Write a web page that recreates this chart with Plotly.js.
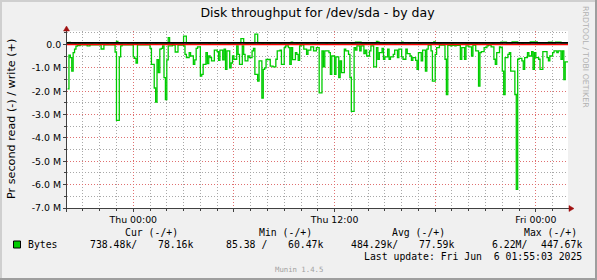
<!DOCTYPE html>
<html><head><meta charset="utf-8">
<script src="https://cdn.plot.ly/plotly-3.0.1.min.js"></script>
<style>html,body{margin:0;padding:0;background:#f0f0f0;overflow:hidden}#chart{width:597px;height:280px}</style>
</head><body><div id="chart"></div>
<script>
// Read throughput (bytes/s, in millions), 5-minute samples from Wed 20:05 onward
const readM = [
1.9,0.45,0.56,1.14,0.35,0.2,0.07,0.03,0.05,0.01,0.01,0.01,0.01,0.01,0.06,0.06,0.01,0.01,0.01,0.01,
0.01,0.01,0.01,0.01,0.19,0.19,0.01,0.01,0.01,0.01,0.01,0.01,0.01,0.01,0.32,3.25,3.25,0.53,0.06,0.01,
0.01,0.01,0.01,0.01,0.01,0.01,0.01,0.53,0.59,0.79,0.01,0.01,0.01,0.01,0.01,0.01,0.01,0.01,0.01,0.16,
0.85,0.85,1.86,2.46,0.65,1.2,0.2,0.16,0.06,1.42,2.36,0.66,0.06,0.06,0.06,0.02,0.02,0.32,0.32,0.02,
0.02,0.02,0.02,0.06,0.42,0.56,0.56,0.35,0.49,0.49,0.85,0.66,0.16,0.1,0.1,1.35,1.28,0.85,0.85,0.35,
0.82,0.49,0.56,0.7,0.7,0.24,0.24,0.3,0.68,0.24,0.24,0.66,0.2,1.06,0.27,0.27,1.0,0.79,0.49,0.63,
0.63,0.06,0.42,0.85,0.85,0.06,0.42,0.7,0.7,0.49,0.56,0.56,0.27,0.16,1.28,1.28,1.57,0.7,0.7,2.29,
1.06,1.0,0.64,0.64,0.64,0.92,0.92,0.96,0.96,0.63,0.27,0.27,0.24,0.85,0.85,0.13,0.06,0.06,0.13,0.85,
0.13,0.65,0.65,0.35,0.42,0.68,0.06,0.01,0.01,0.2,0.2,0.42,0.24,0.24,0.1,0.1,0.27,0.27,0.13,0.13,
2.07,2.07,0.27,0.96,0.27,0.27,0.27,0.35,1.28,0.49,0.49,1.28,0.53,0.53,1.42,0.7,1.2,1.2,0.2,0.27,
0.27,0.42,1.42,2.86,2.86,0.13,0.24,0.06,0.06,0.27,0.06,0.06,0.39,0.24,0.49,0.49,0.27,0.06,0.06,0.96,
0.96,0.13,0.63,0.35,0.35,0.16,0.63,0.53,0.53,0.2,0.63,0.53,0.53,0.42,0.24,0.24,0.56,0.2,0.2,0.53,
0.63,0.63,0.2,0.39,0.39,0.49,0.68,0.56,0.56,0.68,1.06,0.35,0.35,0.7,0.24,0.24,1.14,0.2,0.02,0.02,
0.27,1.57,1.57,0.42,0.13,0.13,0.02,0.02,0.02,0.02,0.63,2.14,0.03,0.03,0.06,0.03,0.03,0.06,0.03,0.03,
0.03,0.63,0.13,0.13,0.63,0.06,0.06,0.1,0.1,0.49,0.02,0.02,0.27,0.27,1.78,0.35,0.3,0.3,0.13,0.13,
0.06,0.02,0.02,0.1,0.1,0.63,0.85,0.35,0.35,0.1,0.13,1.14,2.14,0.56,0.56,0.42,0.35,1.14,1.14,1.14,
2.14,6.2,0.63,0.59,0.59,0.7,1.06,0.56,0.56,0.35,0.49,0.49,0.3,1.06,0.35,0.56,0.56,0.63,1.06,1.06,
0.3,0.3,0.3,0.56,0.7,0.49,0.49,0.35,0.27,0.27,0.35,0.27,0.27,0.63,0.27,1.5,0.74,0.74
];
// Write throughput (bytes/s, in millions)
const writeM = [
0.07,0.09,0.07,0.07,0.07,0.06,0.07,0.07,0.06,0.07,0.07,0.07,0.06,0.07,0.07,0.07,0.07,0.06,0.07,0.07,
0.07,0.07,0.06,0.07,0.07,0.07,0.07,0.07,0.06,0.07,0.07,0.07,0.07,0.07,0.07,0.13,0.07,0.07,0.06,0.07,
0.07,0.07,0.07,0.06,0.07,0.07,0.07,0.07,0.07,0.06,0.07,0.07,0.07,0.07,0.07,0.07,0.06,0.07,0.07,0.07,
0.07,0.07,0.07,0.06,0.07,0.07,0.07,0.07,0.07,0.07,0.07,0.07,0.3,0.07,0.07,0.06,0.07,0.07,0.07,0.07,
0.07,0.07,0.07,0.36,0.36,0.07,0.07,0.06,0.07,0.07,0.07,0.07,0.07,0.07,0.06,0.07,0.07,0.07,0.07,0.07,
0.07,0.06,0.07,0.07,0.07,0.07,0.07,0.07,0.06,0.07,0.07,0.07,0.07,0.07,0.07,0.06,0.07,0.07,0.07,0.07,
0.07,0.07,0.07,0.07,0.25,0.25,0.07,0.07,0.06,0.07,0.07,0.07,0.07,0.07,0.45,0.45,0.07,0.07,0.07,0.06,
0.07,0.07,0.07,0.07,0.06,0.07,0.07,0.07,0.07,0.07,0.07,0.07,0.06,0.07,0.07,0.07,0.07,0.07,0.07,0.07,
0.1,0.07,0.07,0.07,0.06,0.07,0.07,0.07,0.07,0.07,0.07,0.06,0.07,0.07,0.07,0.07,0.07,0.07,0.07,0.06,
0.07,0.07,0.07,0.07,0.07,0.06,0.07,0.07,0.07,0.07,0.07,0.07,0.07,0.06,0.07,0.07,0.07,0.07,0.07,0.07,
0.07,0.07,0.07,0.06,0.07,0.07,0.1,0.1,0.1,0.1,0.07,0.07,0.07,0.06,0.07,0.07,0.07,0.07,0.07,0.07,
0.07,0.13,0.1,0.07,0.07,0.07,0.06,0.07,0.07,0.07,0.07,0.07,0.07,0.07,0.06,0.07,0.07,0.07,0.07,0.1,
0.07,0.07,0.07,0.07,0.06,0.07,0.07,0.07,0.07,0.07,0.07,0.07,0.06,0.07,0.07,0.07,0.07,0.07,0.07,0.07,
0.07,0.07,0.11,0.07,0.07,0.07,0.06,0.07,0.07,0.07,0.07,0.07,0.07,0.07,0.07,0.06,0.07,0.07,0.07,0.07,
0.07,0.07,0.07,0.07,0.07,0.06,0.07,0.07,0.07,0.07,0.07,0.07,0.06,0.07,0.07,0.07,0.07,0.07,0.07,0.07,
0.07,0.07,0.07,0.07,0.06,0.07,0.07,0.07,0.07,0.07,0.1,0.1,0.1,0.1,0.07,0.07,0.07,0.07,0.11,0.11,
0.11,0.11,0.07,0.07,0.07,0.06,0.07,0.07,0.07,0.07,0.07,0.11,0.11,0.11,0.11,0.11,0.07,0.07,0.07,0.07,
0.07,0.07,0.07,0.07,0.1,0.07,0.1,0.07,0.07,0.1,0.1,0.1,0.1,0.07,0.07,0.07,0.07,0.078
];
const firstSampleUTC = Date.UTC(2025, 5, 4, 20, 5);
const sampleStepMs = 300000;
const lastSampleEnd = '2025-06-06 01:55:00';
const xRange = ['2025-06-04 20:03:00', '2025-06-06 01:55:00'];
const xTickVals = ['2025-06-05 00:00','2025-06-05 06:00','2025-06-05 12:00','2025-06-05 18:00','2025-06-06 00:00'];
const xTickText = ['Thu 00:00','','Thu 12:00','','Fri 00:00'];
const yTickVals = [-7e6,-6e6,-5e6,-4e6,-3e6,-2e6,-1e6,0];
const yTickText = ['-7.0 M','-6.0 M','-5.0 M','-4.0 M','-3.0 M','-2.0 M','-1.0 M','0.0'];
const yRange = [-7e6, 0.58e6];
const blackRuleM = 0.075;
const titleText = 'Disk throughput for /dev/sda - by day';
const yTitleText = 'Pr second read (-) / write (+)';
const seriesName = 'Bytes';
const statHeaders = ['Cur (-/+)','Min (-/+)','Avg (-/+)','Max (-/+)'];
const statRead = ['738.48k/','85.38 /','484.29k/','6.22M/'];
const statWrite = ['78.16k','60.47k','77.59k','447.67k'];
const lastUpdateText = 'Last update: Fri Jun \u00a06 01:55:03 2025';
const watermarkText = 'Munin 1.4.5';
const sideText = 'RRDTOOL / TOBI OETIKER';

// ---- layout geometry (pixels) ----
const W = 597, H = 280, ML = 67, MR = 29, MT = 31, MB = 72;
const PW = W - ML - MR, PH = H - MT - MB;
const px = x => (x - ML) / PW;
const py = y => (H - MB - y) / PH;
const headerX = [124, 258, 391, 523];
const readX = [89, 225, 350, 491];
const writeX = [157, 287, 418, 540];

function fmt(ms) { return new Date(ms).toISOString().slice(0, 19).replace('T', ' '); }
const times = readM.map((_, k) => fmt(firstSampleUTC + k * sampleStepMs));
times.push(lastSampleEnd);
const readY = readM.map(v => -v * 1e6); readY.push(readY[readY.length - 1]);
const writeY = writeM.map(v => v * 1e6); writeY.push(writeY[writeY.length - 1]);

const green = '#00cc00';
const traces = [
  {x: times, y: readY, type: 'scatter', mode: 'lines', line: {shape: 'hv', color: green, width: 1.3}, hoverinfo: 'skip', showlegend: false},
  {x: times, y: writeY, type: 'scatter', mode: 'lines', line: {shape: 'hv', color: green, width: 1.3}, hoverinfo: 'skip', showlegend: false}
];

const axisColor = '#404040', arrowColor = '#a01010';
const shapes = [
  {type: 'line', xref: 'paper', yref: 'y', x0: 0, x1: 1, y0: 0, y1: 0, line: {color: '#ff0000', width: 1.5}, layer: 'above'},
  {type: 'line', xref: 'paper', yref: 'y', x0: 0, x1: 1, y0: blackRuleM * 1e6, y1: blackRuleM * 1e6, line: {color: '#000000', width: 1.8}, layer: 'above'},
  {type: 'line', xref: 'paper', yref: 'paper', x0: px(63), x1: px(570), y0: py(208.5), y1: py(208.5), line: {color: axisColor, width: 1}, layer: 'above'},
  {type: 'line', xref: 'paper', yref: 'paper', x0: px(66.5), x1: px(66.5), y0: py(212), y1: py(29), line: {color: axisColor, width: 1}, layer: 'above'},
  {type: 'path', xref: 'paper', yref: 'paper', layer: 'above', fillcolor: arrowColor, line: {color: arrowColor, width: 0.5},
   path: `M ${px(569)} ${py(205.5)} L ${px(574)} ${py(208.5)} L ${px(569)} ${py(211.5)} Z`},
  {type: 'path', xref: 'paper', yref: 'paper', layer: 'above', fillcolor: arrowColor, line: {color: arrowColor, width: 0.5},
   path: `M ${px(63.5)} ${py(31)} L ${px(66.5)} ${py(26)} L ${px(69.5)} ${py(31)} Z`},
  // legend swatch
  {type: 'rect', xref: 'paper', yref: 'paper', x0: px(13.5), x1: px(20.5), y0: py(248), y1: py(241), fillcolor: green, line: {color: '#000', width: 1}, layer: 'above'},
  // frame
  {type: 'line', xref: 'paper', yref: 'paper', x0: px(0), x1: px(597), y0: py(1), y1: py(1), line: {color: '#cfcfcf', width: 2}, layer: 'above'},
  {type: 'line', xref: 'paper', yref: 'paper', x0: px(1), x1: px(1), y0: py(0), y1: py(280), line: {color: '#cfcfcf', width: 2}, layer: 'above'},
  {type: 'line', xref: 'paper', yref: 'paper', x0: px(0), x1: px(597), y0: py(279), y1: py(279), line: {color: '#9e9e9e', width: 2}, layer: 'above'},
  {type: 'line', xref: 'paper', yref: 'paper', x0: px(596), x1: px(596), y0: py(0), y1: py(280), line: {color: '#9e9e9e', width: 2}, layer: 'above'}
];

const mono = 'DejaVu Sans Mono, monospace';
const sans = 'DejaVu Sans, sans-serif';
const ann = [];
ann.push({text: yTitleText, xref: 'paper', yref: 'paper', x: px(11.5), y: py(119.5), textangle: -90, showarrow: false,
  xanchor: 'center', yanchor: 'middle', font: {family: sans, size: 11.2, color: '#000'}});
ann.push({text: sideText, xref: 'paper', yref: 'paper', x: px(586), y: py(57), textangle: 90, showarrow: false,
  xanchor: 'center', yanchor: 'middle', font: {family: sans, size: 7.9, color: '#b0b0b0'}});
statHeaders.forEach((t, i) => ann.push({text: t, xref: 'paper', yref: 'paper', x: px(headerX[i] - 1), y: py(232.5), showarrow: false,
  xanchor: 'left', yanchor: 'middle', font: {family: mono, size: 9.8, color: '#000'}}));
ann.push({text: seriesName, xref: 'paper', yref: 'paper', x: px(26), y: py(244.3), showarrow: false,
  xanchor: 'left', yanchor: 'middle', font: {family: mono, size: 9.8, color: '#000'}});
statRead.forEach((t, i) => ann.push({text: t.replace(/ /g, '\u00a0'), xref: 'paper', yref: 'paper', x: px(readX[i] - 1), y: py(244.3), showarrow: false,
  xanchor: 'left', yanchor: 'middle', font: {family: mono, size: 9.8, color: '#000'}}));
statWrite.forEach((t, i) => ann.push({text: t, xref: 'paper', yref: 'paper', x: px(writeX[i] - 1), y: py(244.3), showarrow: false,
  xanchor: 'left', yanchor: 'middle', font: {family: mono, size: 9.8, color: '#000'}}));
ann.push({text: lastUpdateText, xref: 'paper', yref: 'paper', x: px(584), y: py(256.7), showarrow: false,
  xanchor: 'right', yanchor: 'middle', font: {family: mono, size: 9.8, color: '#000'}});
ann.push({text: watermarkText, xref: 'paper', yref: 'paper', x: px(299), y: py(269.3), showarrow: false,
  xanchor: 'center', yanchor: 'middle', font: {family: mono, size: 7.3, color: '#a0a0a0'}});

const majorGrid = '#e07070', minorGrid = '#a8a8a8';
const layout = {
  width: W, height: H,
  margin: {l: ML, r: MR, t: MT, b: MB, pad: 0},
  paper_bgcolor: '#f0f0f0', plot_bgcolor: '#ffffff',
  showlegend: false,
  title: {text: titleText, x: 0.5, xref: 'paper', xanchor: 'center', y: 1 - 13 / H, yref: 'container', yanchor: 'middle',
    font: {family: sans, size: 12.5, color: '#000'}},
  xaxis: {
    type: 'date', range: xRange, automargin: false, fixedrange: true,
    tickmode: 'array', tickvals: xTickVals, ticktext: xTickText,
    showgrid: true, gridcolor: majorGrid, griddash: '1px,2px', gridwidth: 1,
    ticks: 'outside', ticklen: 3, tickcolor: axisColor, tickwidth: 1,
    showline: false, zeroline: false,
    tickfont: {family: sans, size: 9.4, color: '#000'},
    minor: {tickmode: 'linear', tick0: '2025-06-05 00:00', dtick: 3600000, showgrid: true, gridcolor: minorGrid, griddash: '1px,2px', gridwidth: 1, ticks: 'outside', ticklen: 2, tickcolor: axisColor}
  },
  yaxis: {
    range: yRange, automargin: false, fixedrange: true,
    tickmode: 'array', tickvals: yTickVals, ticktext: yTickText,
    showgrid: true, gridcolor: majorGrid, griddash: '1px,2px', gridwidth: 1,
    ticks: 'outside', ticklen: 3, tickcolor: axisColor,
    showline: false, zeroline: false,
    tickfont: {family: sans, size: 9.4, color: '#000'},
    minor: {tickmode: 'linear', tick0: 0, dtick: 5e5, showgrid: true, gridcolor: minorGrid, griddash: '1px,2px', gridwidth: 1, ticks: 'outside', ticklen: 2, tickcolor: axisColor}
  },
  shapes: shapes,
  annotations: ann
};
Plotly.newPlot('chart', traces, layout, {displayModeBar: false, staticPlot: true});
</script>
</body></html>
